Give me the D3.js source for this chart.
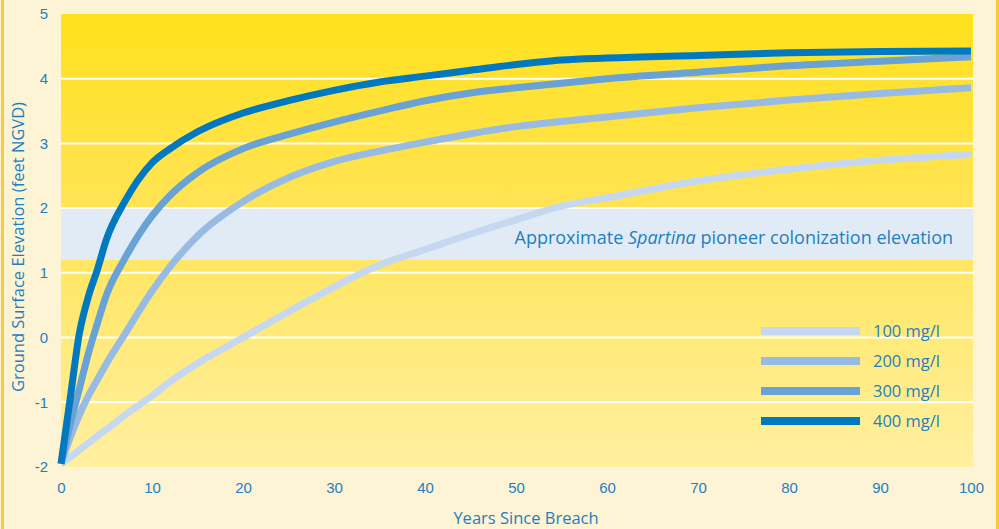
<!DOCTYPE html>
<html>
<head>
<meta charset="utf-8">
<script src="https://cdn.jsdelivr.net/npm/d3@7"></script>
<style>
  body { margin: 0; background: #fdf3d5; }
  svg { display: block; font-family: "Open Sans", sans-serif; }
  .tick text { fill: #1f7fc1; font-size: 15px; }
</style>
</head>
<body>
<svg id="chart" width="999" height="529"></svg>
<script>
// years since breach, shared by every series
var years = [0, 1, 2, 3, 4, 5, 7, 10, 12, 15, 20, 25, 30, 35, 40, 45, 50, 55, 60, 70, 80, 90, 100];

var s100 = [-1.95, -1.85, -1.74, -1.63, -1.52, -1.42, -1.2, -0.9, -0.68, -0.4, 0.0, 0.4, 0.78, 1.12, 1.36, 1.6, 1.82, 2.03, 2.16, 2.42, 2.6, 2.74, 2.83];
var s200 = [-1.95, -1.55, -1.2, -0.9, -0.65, -0.4, 0.05, 0.72, 1.1, 1.57, 2.1, 2.47, 2.72, 2.88, 3.02, 3.15, 3.26, 3.34, 3.41, 3.55, 3.67, 3.77, 3.86];
var s300 = [-1.95, -1.35, -0.8, -0.25, 0.22, 0.66, 1.22, 1.88, 2.2, 2.55, 2.92, 3.14, 3.33, 3.5, 3.66, 3.78, 3.86, 3.93, 4.0, 4.1, 4.2, 4.27, 4.34];
var s400 = [-1.95, -0.95, 0.05, 0.63, 1.05, 1.52, 2.1, 2.7, 2.92, 3.18, 3.47, 3.66, 3.82, 3.95, 4.04, 4.13, 4.22, 4.29, 4.32, 4.36, 4.4, 4.42, 4.43];

var seriesNames = ["100 mg/l", "200 mg/l", "300 mg/l", "400 mg/l"];
var seriesValues = [s100, s200, s300, s400];
var colors = ["#c6d8f0", "#98bbe3", "#68a2d6", "#0079c1"];

var xTicks = [0, 10, 20, 30, 40, 50, 60, 70, 80, 90, 100];
var yTicks = [-2, -1, 0, 1, 2, 3, 4, 5];
var band = [1.2, 1.98]; // spartina colonization range

var svg = d3.select("#chart");
var margin = {top: 14, right: 26, bottom: 62, left: 61},
    width = 999 - margin.left - margin.right,
    height = 529 - margin.top - margin.bottom;

var x = d3.scaleLinear().domain([0, 100]).range([0, 910]);
var y = d3.scaleLinear().domain([-2, 5]).range([height, 0]);

// borders
svg.append("rect").attr("x", 1).attr("y", 0).attr("width", 3).attr("height", 529).attr("fill", "#f9c940");
svg.append("rect").attr("x", 996).attr("y", 0).attr("width", 3).attr("height", 529).attr("fill", "#f9c940");

var defs = svg.append("defs");
var grad = defs.append("linearGradient").attr("id", "bg")
    .attr("x1", 0).attr("y1", 0).attr("x2", 0).attr("y2", 1);
grad.append("stop").attr("offset", "0%").attr("stop-color", "#ffe11c");
grad.append("stop").attr("offset", "45%").attr("stop-color", "#ffe458");
grad.append("stop").attr("offset", "100%").attr("stop-color", "#fff0a0");

var g = svg.append("g").attr("transform", "translate(" + margin.left + "," + margin.top + ")");

g.append("rect").attr("width", width).attr("height", height).attr("fill", "url(#bg)");

// grid lines
g.selectAll(".grid").data(yTicks.filter(function (d) { return d > -2 && d < 5; }))
    .enter().append("line")
    .attr("x1", 0).attr("x2", width)
    .attr("y1", function (d) { return y(d); })
    .attr("y2", function (d) { return y(d); })
    .attr("stroke", "#fff").attr("stroke-width", 2);

g.append("rect")
    .attr("x", 0).attr("width", width)
    .attr("y", y(band[1])).attr("height", y(band[0]) - y(band[1]))
    .attr("fill", "#e1ebf6");

var line = d3.line()
    .x(function (d, i) { return x(years[i]); })
    .y(function (d) { return y(d); })
    .curve(d3.curveMonotoneX);

g.selectAll(".series").data(seriesValues)
    .enter().append("path")
    .attr("class", "series")
    .attr("d", line)
    .attr("fill", "none")
    .attr("stroke", function (d, i) { return colors[i]; })
    .attr("stroke-width", 7);

g.append("text")
    .attr("x", 892).attr("y", 230)
    .attr("text-anchor", "end")
    .attr("fill", "#1f7fc1")
    .style("font-size", "18px")
    .html('Approximate <tspan font-style="italic">Spartina</tspan> pioneer colonization elevation');

// legend
var legend = g.selectAll(".legend").data(seriesNames)
    .enter().append("g")
    .attr("class", "legend")
    .attr("transform", function (d, i) { return "translate(700," + (317 + i * 30) + ")"; });
legend.append("line")
    .attr("x1", 0).attr("x2", 99)
    .attr("stroke", function (d, i) { return colors[i]; })
    .attr("stroke-width", 8);
legend.append("text")
    .attr("x", 112).attr("dy", "0.35em")
    .attr("fill", "#1f7fc1")
    .style("font-size", "16.5px")
    .text(function (d) { return d; });

// axes
g.append("g")
    .attr("transform", "translate(-10,0)")
    .call(d3.axisLeft(y).tickValues(yTicks).tickSize(0).tickFormat(function (d) { return String(d); }))
    .call(function (a) { a.select(".domain").remove(); });

g.append("g")
    .attr("transform", "translate(0," + (height + 12) + ")")
    .call(d3.axisBottom(x).tickValues(xTicks).tickSize(0))
    .call(function (a) { a.select(".domain").remove(); });

svg.append("text")
    .attr("x", 526).attr("y", 524)
    .attr("text-anchor", "middle")
    .attr("fill", "#1f7fc1")
    .style("font-size", "16.5px")
    .text("Years Since Breach");

svg.append("text")
    .attr("transform", "translate(24,247) rotate(-90)")
    .attr("text-anchor", "middle")
    .attr("fill", "#1f7fc1")
    .style("font-size", "16.5px")
    .text("Ground Surface Elevation (feet NGVD)");
</script>
</body>
</html>
